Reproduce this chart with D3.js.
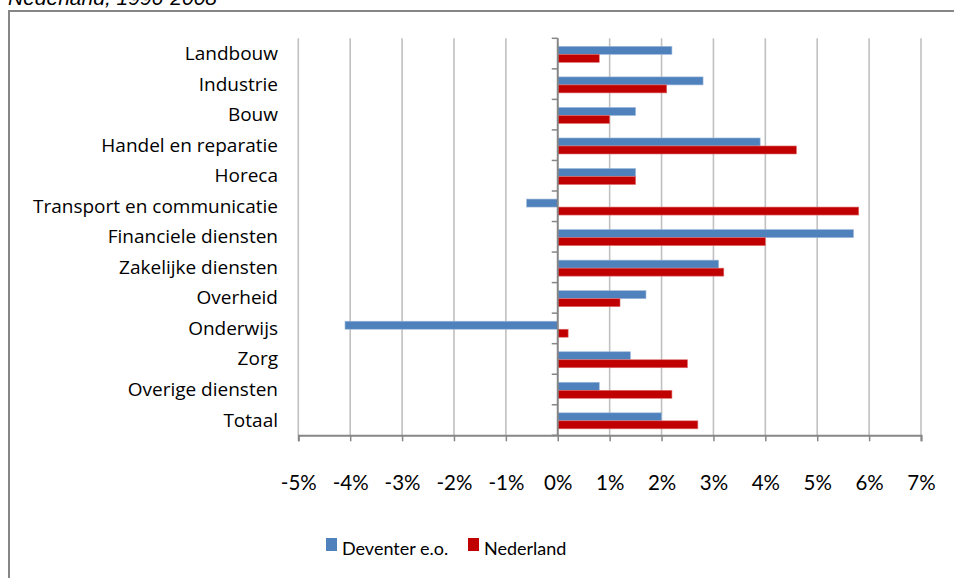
<!DOCTYPE html>
<html><head><meta charset="utf-8">
<script src="https://cdn.jsdelivr.net/npm/d3@7"></script>
<style>body{margin:0;background:#fff;} svg{display:block;}</style>
</head><body>
<script>
const categories = ["Landbouw","Industrie","Bouw","Handel en reparatie","Horeca","Transport en communicatie","Financiele diensten","Zakelijke diensten","Overheid","Onderwijs","Zorg","Overige diensten","Totaal"];
const deventer = [2.2, 2.8, 1.5, 3.9, 1.5, -0.6, 5.7, 3.1, 1.7, -4.1, 1.4, 0.8, 2.0];
const nederland = [0.8, 2.1, 1.0, 4.6, 1.5, 5.8, 4.0, 3.2, 1.2, 0.2, 2.5, 2.2, 2.7];
const seriesNames = ["Deventer e.o.", "Nederland"];
const xTicks = [-5,-4,-3,-2,-1,0,1,2,3,4,5,6,7];
const colors = ["#4F81BD", "#C00000"];
const strokes = ["#9DB8DB", "#E07070"];

const W = 954, H = 578;
const svg = d3.select("body").append("svg").attr("width", W).attr("height", H);
const font = "Lato, 'Open Sans', sans-serif";
const labelFont = "'Open Sans', Lato, sans-serif";

// subtitle (cut off at top, as in the original)
svg.append("text").attr("x", 8).attr("y", 5)
  .attr("font-family", "'Liberation Sans', Arial, sans-serif").attr("font-style", "italic")
  .attr("font-size", 21).attr("fill", "#000").text("Nederland, 1996-2008");

// chart frame
svg.append("rect").attr("x", 9).attr("y", 11).attr("width", 960).attr("height", 600)
  .attr("fill", "none").attr("stroke", "#868686").attr("stroke-width", 2);

const x = d3.scaleLinear().domain([-5, 7]).range([298.3, 921]);
const y = d3.scaleBand().domain(categories).range([38.3, 435.3]);

// gridlines
svg.append("g").selectAll("line").data(xTicks.filter(d => d !== 0)).join("line")
  .attr("x1", d => x(d)).attr("x2", d => x(d)).attr("y1", 38.3).attr("y2", 435.3)
  .attr("stroke", "#C0C0C0").attr("stroke-width", 1.6);

// bars
const barH = 8;
const data = [];
categories.forEach((c, i) => {
  data.push({c, s: 0, v: deventer[i]});
  data.push({c, s: 1, v: nederland[i]});
});
const gap = (y.bandwidth() - 2 * barH) / 2;
svg.append("g").selectAll("rect").data(data).join("rect")
  .attr("x", d => Math.min(x(0), x(d.v)))
  .attr("width", d => Math.abs(x(d.v) - x(0)))
  .attr("y", d => y(d.c) + gap + 0.8 + d.s * barH)
  .attr("height", barH)
  .attr("fill", d => colors[d.s])
  .attr("stroke", d => strokes[d.s]).attr("stroke-width", 0.6);

// x axis
const xAxis = svg.append("g").attr("transform", "translate(0,435.3)")
  .call(d3.axisBottom(x).tickValues(xTicks).tickSize(6).tickFormat(d => d + "%"));
xAxis.select(".domain").attr("stroke", "#868686").attr("stroke-width", 2);
xAxis.selectAll(".tick line").attr("stroke", "#868686").attr("stroke-width", 1.5);
xAxis.selectAll(".tick text").attr("font-family", font).attr("font-size", 20.5)
  .attr("fill", "#000").attr("y", 0).attr("dy", 0)
  .attr("transform", "translate(0,55)");

// y axis at zero
const yAxisG = svg.append("g").attr("transform", `translate(${x(0)},0)`);
yAxisG.append("line").attr("x1", 0).attr("x2", 0).attr("y1", 38.3).attr("y2", 435.3)
  .attr("stroke", "#868686").attr("stroke-width", 2);
const bounds = categories.map(c => y(c)).concat([435.3]);
yAxisG.selectAll("line.t").data(bounds).join("line").attr("class", "t")
  .attr("x1", -6).attr("x2", 0).attr("y1", d => d).attr("y2", d => d)
  .attr("stroke", "#868686").attr("stroke-width", 1.5);

// category labels
svg.append("g").selectAll("text").data(categories).join("text")
  .attr("x", 278).attr("y", d => y(d) + y.bandwidth() / 2 + 6.5)
  .attr("text-anchor", "end").attr("font-family", labelFont).attr("font-size", 19)
  .attr("fill", "#000").text(d => d);

// legend
const leg = svg.append("g");
const legX = [326, 468];
seriesNames.forEach((n, i) => {
  leg.append("rect").attr("x", legX[i]).attr("y", 538).attr("width", 11).attr("height", 13).attr("fill", colors[i]);
  leg.append("text").attr("x", legX[i] + 16).attr("y", 555).attr("font-family", font)
    .attr("font-size", 18).attr("fill", "#000").text(n);
});
</script>
</body></html>
